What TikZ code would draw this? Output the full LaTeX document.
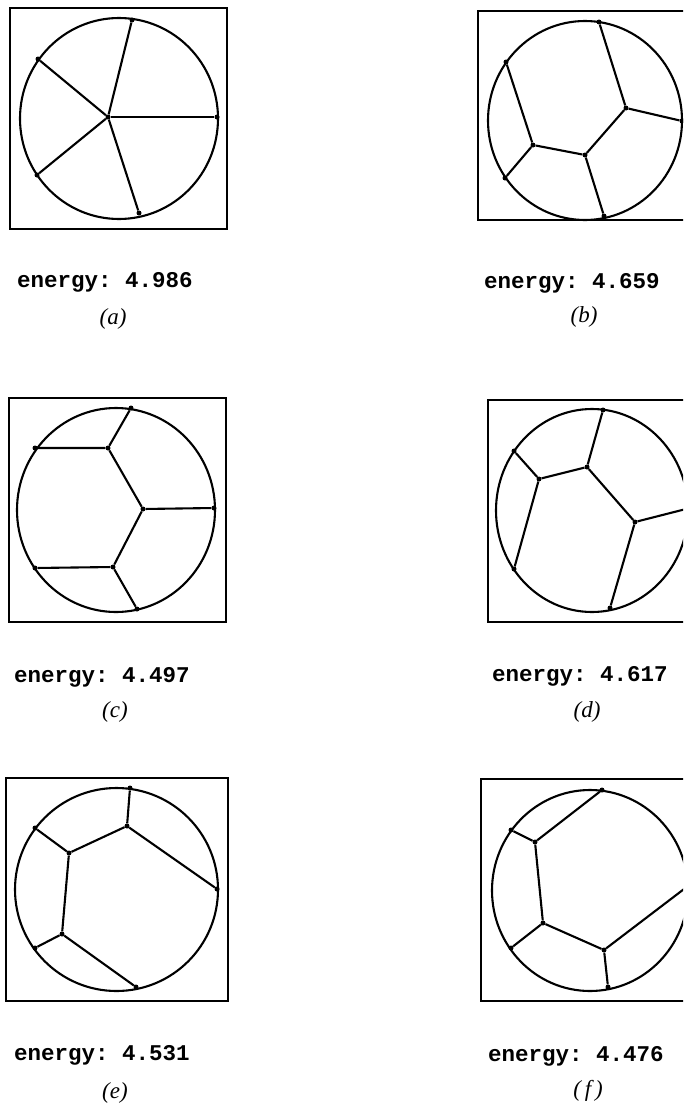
\documentclass[tikz,border=0pt]{standalone}
\usepackage{fontspec}
\setmainfont{Liberation Serif}
\setmonofont{Liberation Mono}
\begin{document}
\begin{tikzpicture}[x=1pt,y=-1pt,
  frame/.style={line width=2.2pt},
  rim/.style={line width=2.1pt},
  edge/.style={line width=2.1pt},
  dot/.style={circle,fill=black,inner sep=0pt,minimum size=5pt},
  energy/.style={font=\ttfamily\bfseries\fontsize{22.5}{26}\selectfont,inner sep=0pt},
  subcap/.style={font=\itshape\fontsize{23}{26}\selectfont,inner sep=0pt}]
\clip (0,0) rectangle (683,1103);
\useasboundingbox (0,0) rectangle (683,1103);

% ---------------- (a)
\draw[frame] (10,8) rectangle (227,229);
\draw[rim] (119,118.5) ellipse [x radius=99pt, y radius=100.5pt];
\node[dot] (ac) at (108,117) {};
\node[dot] (a1) at (132,20) {};
\node[dot] (a2) at (38,59) {};
\node[dot] (a3) at (217,117) {};
\node[dot] (a4) at (37,175) {};
\node[dot] (a5) at (139,213) {};
\foreach \v in {a1,a2,a3,a4,a5} \draw[edge] (ac) -- (\v);
\node[energy] (ea) at (105,282) {energy: 4.986};
\node[subcap] (ca) at (113,319) {(a)};

% ---------------- (b)
\draw[frame] (478,11) rectangle (700,220);
\draw[rim] (585,120.5) ellipse [x radius=97pt, y radius=99.5pt];
\node[dot] (b1) at (599,22) {};
\node[dot] (b2) at (506,62) {};
\node[dot] (b3) at (682,121) {};
\node[dot] (b4) at (505,178) {};
\node[dot] (b5) at (604,216) {};
\node[dot] (bA) at (626,108) {};
\node[dot] (bB) at (585,155) {};
\node[dot] (bC) at (533,145) {};
\draw[edge] (b1) -- (bA) -- (b3);
\draw[edge] (bA) -- (bB) -- (b5);
\draw[edge] (bB) -- (bC) -- (b2);
\draw[edge] (bC) -- (b4);
\node[energy] (eb) at (572,283) {energy: 4.659};
\node[subcap] (cb) at (584,317) {(b)};

% ---------------- (c)
\draw[frame] (9,398) rectangle (226,622);
\draw[rim] (116,510) ellipse [x radius=99pt, y radius=102pt];
\node[dot] (c1) at (131,408) {};
\node[dot] (c2) at (35,448) {};
\node[dot] (c3) at (214,508) {};
\node[dot] (c4) at (35,568) {};
\node[dot] (c5) at (137,609) {};
\node[dot] (cT) at (108,448) {};
\node[dot] (cR) at (143,509) {};
\node[dot] (cB) at (113,567) {};
\draw[edge] (c1) -- (cT) -- (c2);
\draw[edge] (cT) -- (cR) -- (c3);
\draw[edge] (cR) -- (cB) -- (c4);
\draw[edge] (cB) -- (c5);
\node[energy] (ec) at (102,677) {energy: 4.497};
\node[subcap] (cc) at (115,712) {(c)};

% ---------------- (d)
\draw[frame] (488,400) rectangle (700,622);
\draw[rim] (592,510.5) ellipse [x radius=96pt, y radius=101.5pt];
\node[dot] (d1) at (603,410) {};
\node[dot] (d2) at (514,451) {};
\node[dot] (d3) at (686,509) {};
\node[dot] (d4) at (514,569) {};
\node[dot] (d5) at (610,608) {};
\node[dot] (dU) at (539,479) {};
\node[dot] (dT) at (587,467) {};
\node[dot] (dR) at (635,522) {};
\draw[edge] (d1) -- (dT) -- (dU) -- (d2);
\draw[edge] (dU) -- (d4);
\draw[edge] (dT) -- (dR) -- (d3);
\draw[edge] (dR) -- (d5);
\node[energy] (ed) at (580,676) {energy: 4.617};
\node[subcap] (cd) at (587,712) {(d)};

% ---------------- (e)
\draw[frame] (6,778) rectangle (228,1001);
\draw[rim] (116.5,889.5) ellipse [x radius=101.5pt, y radius=101.5pt];
\node[dot] (e1) at (130,788) {};
\node[dot] (e2) at (35,828) {};
\node[dot] (e3) at (217,889) {};
\node[dot] (e4) at (35,948) {};
\node[dot] (e5) at (136,987) {};
\node[dot] (eU) at (69,853) {};
\node[dot] (eT) at (127,826) {};
\node[dot] (eL) at (62,934) {};
\draw[edge] (e1) -- (eT) -- (eU) -- (e2);
\draw[edge] (eT) -- (e3);
\draw[edge] (eU) -- (eL) -- (e4);
\draw[edge] (eL) -- (e5);
\node[energy] (ee) at (102,1055) {energy: 4.531};
\node[subcap] (ce) at (115,1093) {(e)};

% ---------------- (f)
\draw[frame] (481,779) rectangle (700,1001);
\draw[rim] (590,890.5) ellipse [x radius=98pt, y radius=100.5pt];
\node[dot] (f1) at (602,790) {};
\node[dot] (f2) at (511,830) {};
\node[dot] (f3) at (688,886) {};
\node[dot] (f4) at (511,948) {};
\node[dot] (f5) at (608,987) {};
\node[dot] (fU) at (535,842) {};
\node[dot] (fL) at (543,923) {};
\node[dot] (fB) at (604,950) {};
\draw[edge] (f1) -- (fU) -- (f2);
\draw[edge] (fU) -- (fL) -- (f4);
\draw[edge] (fL) -- (fB) -- (f3);
\draw[edge] (fB) -- (f5);
\node[energy] (ef) at (576,1056) {energy: 4.476};
\node[subcap] (cf) at (588,1091) {(\,f\,)};
\end{tikzpicture}
\end{document}
